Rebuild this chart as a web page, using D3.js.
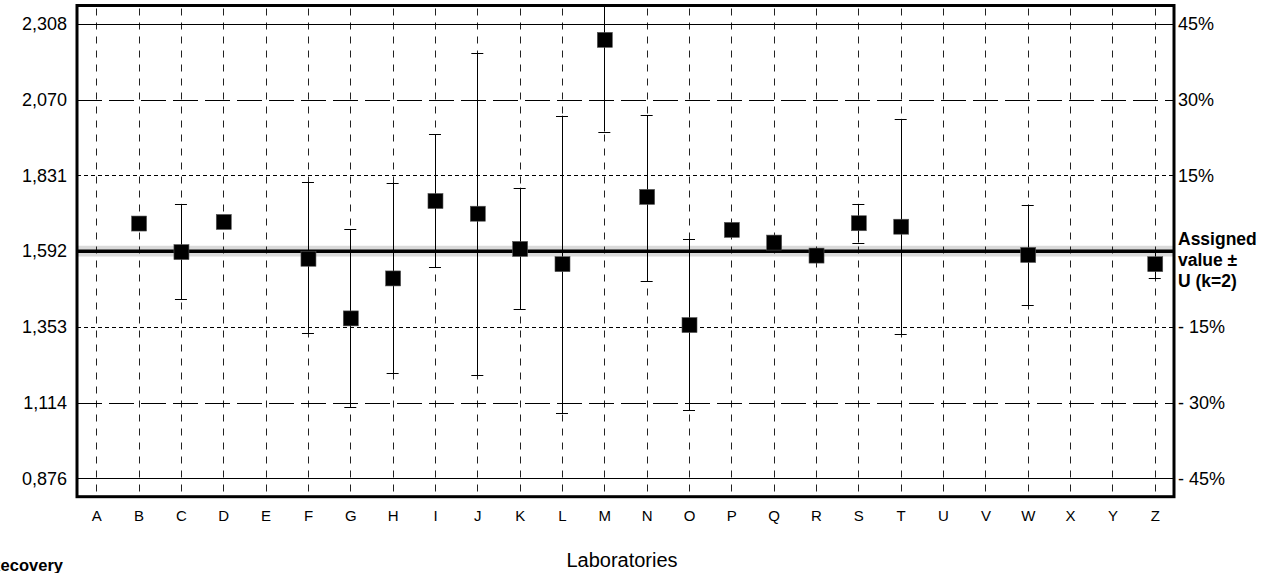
<!DOCTYPE html>
<html>
<head>
<meta charset="utf-8">
<script src="https://cdn.jsdelivr.net/npm/d3@7"></script>
<style>
  body { margin: 0; background: #fff; }
  svg { display: block; font-family: "Liberation Sans", Arial, sans-serif; }
</style>
</head>
<body>
<div id="chart"></div>
<script>
// labs, results and expanded uncertainty limits
const labs = ["A","B","C","D","E","F","G","H","I","J","K","L","M","N","O","P","Q","R","S","T","U","V","W","X","Y","Z"];
const results = [null,1.679,1.589,1.684,null,1.568,1.380,1.506,1.750,1.710,1.599,1.551,2.258,1.763,1.359,1.659,1.619,1.578,1.680,1.669,null,null,1.580,null,null,1.551];
const lower =   [null,null,1.441,null,null,1.334,1.102,1.208,1.541,1.202,1.410,1.081,1.969,1.498,1.091,null,null,null,1.619,1.330,null,null,1.422,null,null,1.508];
const upper =   [null,null,1.741,null,null,1.811,1.661,1.808,1.960,2.218,1.792,2.019,2.547,2.021,1.630,null,null,null,1.741,2.009,null,null,1.738,null,null,1.594];

const assigned = 1.592;
const assignedU = 0.017;
const tickValues = [0.876, 1.114, 1.353, 1.592, 1.831, 2.070, 2.308];
const tickLabels = ["0,876", "1,114", "1,353", "1,592", "1,831", "2,070", "2,308"];
const pctLabels  = ["- 45%", "- 30%", "- 15%", null, "15%", "30%", "45%"];
const lineStyles = ["solid", "long", "short", null, "short", "long", "solid"];

const width = 1283, height = 573;
const plot = { left: 77, right: 1174, top: 5.5, bottom: 496.7 };

const svg = d3.select("#chart").append("svg")
  .attr("width", width)
  .attr("height", height);

const x = d3.scalePoint()
  .domain(labs)
  .range([plot.left, plot.right])
  .padding(0.455);

const y = d3.scaleLinear()
  .domain([0.818, 2.3663])
  .range([plot.bottom, plot.top]);

svg.append("clipPath").attr("id", "clip")
  .append("rect")
  .attr("x", plot.left).attr("y", plot.top)
  .attr("width", plot.right - plot.left).attr("height", plot.bottom - plot.top);

const g = svg.append("g").attr("clip-path", "url(#clip)");

// uncertainty band of the assigned value
g.append("rect")
  .attr("x", plot.left)
  .attr("width", plot.right - plot.left)
  .attr("y", y(assigned + assignedU))
  .attr("height", y(assigned - assignedU) - y(assigned + assignedU))
  .attr("fill", "#dadada");

// vertical grid
g.selectAll(".vgrid")
  .data(labs)
  .join("line")
  .attr("class", "vgrid")
  .attr("x1", d => Math.round(x(d)) + 0.5)
  .attr("x2", d => Math.round(x(d)) + 0.5)
  .attr("y1", plot.top + 3)
  .attr("y2", plot.bottom)
  .attr("stroke", "#222")
  .attr("stroke-width", 1)
  .attr("stroke-dasharray", "7,7");

// horizontal limit lines
const dashes = { solid: null, long: "25,7", short: "4,3" };
tickValues.forEach((v, i) => {
  if (!lineStyles[i]) return;
  g.append("line")
    .attr("x1", plot.left)
    .attr("x2", plot.right)
    .attr("y1", Math.round(y(v)) + 0.5)
    .attr("y2", Math.round(y(v)) + 0.5)
    .attr("stroke", "#000")
    .attr("stroke-width", 1)
    .attr("stroke-dasharray", dashes[lineStyles[i]]);
});

// assigned value line
g.append("line")
  .attr("x1", plot.left)
  .attr("x2", plot.right)
  .attr("y1", y(assigned))
  .attr("y2", y(assigned))
  .attr("stroke", "#000")
  .attr("stroke-width", 3.5);

// error bars
const bars = labs.map((d, i) => ({ lab: d, v: results[i], lo: lower[i], hi: upper[i] }));
const withBars = bars.filter(d => d.lo !== null);

g.selectAll(".ebar")
  .data(withBars)
  .join("line")
  .attr("class", "ebar")
  .attr("x1", d => Math.round(x(d.lab)) + 0.5)
  .attr("x2", d => Math.round(x(d.lab)) + 0.5)
  .attr("y1", d => y(d.hi))
  .attr("y2", d => y(d.lo))
  .attr("stroke", "#000")
  .attr("stroke-width", 1);

["lo", "hi"].forEach(k => {
  g.selectAll(".cap-" + k)
    .data(withBars)
    .join("line")
    .attr("class", "cap-" + k)
    .attr("x1", d => x(d.lab) - 6)
    .attr("x2", d => x(d.lab) + 6)
    .attr("y1", d => Math.round(y(d[k])) + 0.5)
    .attr("y2", d => Math.round(y(d[k])) + 0.5)
    .attr("stroke", "#000")
    .attr("stroke-width", 1);
});

// result markers
const sq = 15;
g.selectAll(".pt")
  .data(bars.filter(d => d.v !== null))
  .join("rect")
  .attr("class", "pt")
  .attr("x", d => x(d.lab) - sq / 2 + 0.5)
  .attr("y", d => y(d.v) - sq / 2)
  .attr("width", sq)
  .attr("height", sq)
  .attr("fill", "#000")
  .attr("stroke", "#555")
  .attr("stroke-width", 0.6);

// frame
svg.append("rect")
  .attr("x", plot.left)
  .attr("y", plot.top)
  .attr("width", plot.right - plot.left)
  .attr("height", plot.bottom - plot.top)
  .attr("fill", "none")
  .attr("stroke", "#000")
  .attr("stroke-width", 3);

// left axis
const yAxis = svg.append("g")
  .attr("transform", `translate(${plot.left - 10},0)`)
  .call(d3.axisLeft(y).tickValues(tickValues).tickSize(0)
    .tickFormat((d, i) => tickLabels[i]));
yAxis.select(".domain").remove();
yAxis.selectAll("text")
  .attr("x", 0)
  .attr("font-size", 18)
  .attr("font-family", "Liberation Sans, Arial, sans-serif")
  .attr("fill", "#000");

// right percentage labels
const right = svg.append("g");
tickValues.forEach((v, i) => {
  if (!pctLabels[i]) return;
  right.append("text")
    .attr("x", plot.right + 4)
    .attr("y", y(v))
    .attr("dy", "0.35em")
    .attr("font-size", 18)
    .text(pctLabels[i]);
});

const assignedLabel = right.append("text")
  .attr("font-size", 17.5)
  .attr("font-weight", "bold");
["Assigned", "value \u00b1", "U (k=2)"].forEach((t, i) => {
  assignedLabel.append("tspan")
    .attr("x", plot.right + 4)
    .attr("y", y(assigned) - 6 + i * 21)
    .text(t);
});

// bottom axis
const xAxis = svg.append("g")
  .attr("transform", `translate(0,${plot.bottom + 11})`)
  .call(d3.axisBottom(x).tickSize(0));
xAxis.select(".domain").remove();
xAxis.selectAll("text")
  .attr("font-size", 15)
  .attr("font-family", "Liberation Sans, Arial, sans-serif")
  .attr("fill", "#000");

svg.append("text")
  .attr("x", 622)
  .attr("y", 567)
  .attr("text-anchor", "middle")
  .attr("font-size", 20)
  .text("Laboratories");

svg.append("text")
  .attr("x", 63)
  .attr("y", 571)
  .attr("text-anchor", "end")
  .attr("font-size", 16.5)
  .attr("font-weight", "bold")
  .text("Recovery");
</script>
</body>
</html>
